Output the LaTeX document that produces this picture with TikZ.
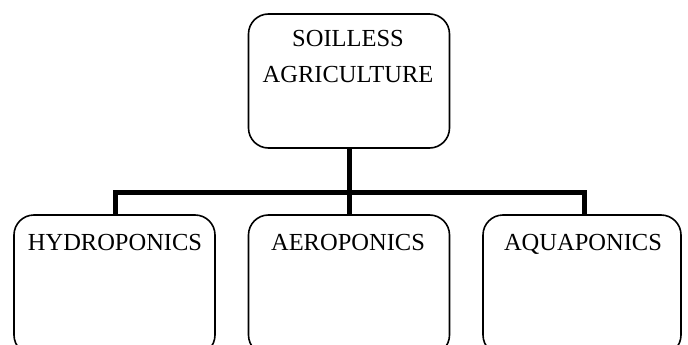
\documentclass[tikz,border=0pt]{standalone}
\usepackage{fontspec}
\setmainfont{Liberation Serif}
\begin{document}
\begin{tikzpicture}[x=1pt,y=-1pt,
  box/.style={draw=black,line width=1.6pt,rounded corners=20pt,minimum width=201pt,inner sep=0pt},
  lbl/.style={font=\fontsize{24.5}{35}\selectfont,align=center,inner sep=0pt,anchor=base},
  conn/.style={draw=black,line width=5pt,line join=miter}]
\useasboundingbox (0,0) rectangle (688,345);
\clip (0,0) rectangle (688,345);
% boxes
\node[box,minimum height=134pt] (top) at (349,81) {};
\node[box,minimum height=140pt] (hyd) at (114.5,285) {};
\node[box,minimum height=140pt] (aer) at (349,285) {};
\node[box,minimum width=198pt,minimum height=140pt] (aqu) at (582,285) {};
% texts
\node[lbl] (t1) at (348,47) {SOILLESS};
\node[lbl] (t2) at (348,82) {AGRICULTURE};
\node[lbl] (t3) at (115,250) {HYDROPONICS};
\node[lbl] (t4) at (348,250) {AEROPONICS};
\node[lbl] (t5) at (583,250) {AQUAPONICS};
% connectors
\coordinate (bar) at (349,192.5);
\draw[conn] (top.south) -- (aer.north);
\draw[conn] ([xshift=0.5pt]hyd.north) |- (bar) -| ([xshift=2pt]aqu.north);
\end{tikzpicture}
\end{document}
